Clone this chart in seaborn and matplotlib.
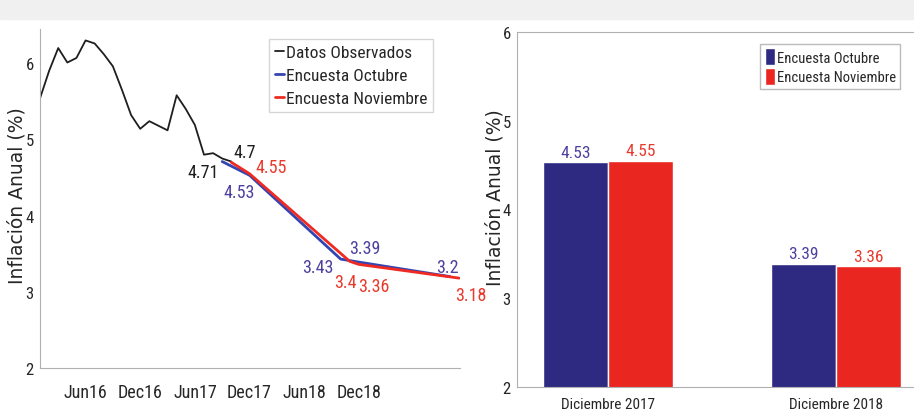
import matplotlib
matplotlib.use('Agg')
import matplotlib.pyplot as plt
import pandas as pd
import seaborn as sns
from matplotlib.patches import Rectangle

# observed inflation, monthly Jan16 - Oct17 (month index 0 = Jan16)
obs_month = list(range(0, 22))
obs_value = [5.54, 5.90, 6.20, 6.01, 6.07, 6.30, 6.26, 6.12, 5.96, 5.65, 5.32, 5.14,
             5.24, 5.18, 5.12, 5.58, 5.40, 5.19, 4.80, 4.82, 4.75, 4.71]

# survey paths
oct_month = [20, 23, 33, 35, 45]
oct_value = [4.71, 4.53, 3.43, 3.39, 3.20]
nov_month = [21, 23, 34, 35, 46]
nov_value = [4.70, 4.55, 3.40, 3.36, 3.18]

tick_month = [5, 11, 17, 23, 29, 35]
tick_label = ['Jun16', 'Dec16', 'Jun17', 'Dec17', 'Jun18', 'Dec18']

bar_cat = ['Diciembre 2017', 'Diciembre 2018']
bar_oct = [4.53, 3.39]
bar_nov = [4.55, 3.36]

series = ['Datos Observados', 'Encuesta Octubre', 'Encuesta Noviembre']

BLACK = '#1e1e1e'
BLUE_L = '#3444b0'
RED_L = '#ee2a22'
BLUE_B = '#2e2a82'
RED_B = '#ea2620'
BLUE_T = '#4d419f'
RED_T = '#e9392c'
NARROW = ['Roboto Condensed', 'DejaVu Sans']

sns.set_style('white')
plt.rcParams['font.family'] = NARROW
plt.rcParams['axes.edgecolor'] = '#b0b0b0'

fig = plt.figure(figsize=(9.14, 4.14), dpi=100)
fig.patches.append(Rectangle((0, 1 - 20 / 414), 1, 20 / 414, transform=fig.transFigure,
                             color='#f0f0f0', zorder=-1))

# ---- left: line chart
ax1 = fig.add_axes([40 / 914, 1 - 369 / 414, 420 / 914, 339 / 414])
lines = pd.concat([
    pd.DataFrame({'mes': obs_month, 'valor': obs_value, 'serie': series[0]}),
    pd.DataFrame({'mes': oct_month, 'valor': oct_value, 'serie': series[1]}),
    pd.DataFrame({'mes': nov_month, 'valor': nov_value, 'serie': series[2]}),
])
sns.lineplot(data=lines, x='mes', y='valor', hue='serie', hue_order=series,
             palette=[BLACK, BLUE_L, RED_L], size='serie', sizes=[1.3, 2.0, 2.0],
             ax=ax1, legend=True)
ax1.set_xlim(0, 46.1)
ax1.set_ylim(2, 6.45)
ax1.set_xticks(tick_month, tick_label, fontsize=13)
ax1.set_yticks([2, 3, 4, 5, 6])
ax1.tick_params(axis='y', labelsize=12, pad=1)
ax1.tick_params(axis='x', pad=7)
ax1.set_xlabel('')
ax1.set_ylabel('Inflación Anual (%)', family='DejaVu Sans', fontsize=13.5)
ax1.yaxis.set_label_coords(-0.033, 0.51)
sns.despine(ax=ax1)
ax1.legend(loc='upper right', bbox_to_anchor=(0.936, 0.97), borderaxespad=0, fontsize=12.5,
           handlelength=0.5, handletextpad=0.1, borderpad=0.35, labelspacing=0.45,
           frameon=True, fancybox=False, edgecolor='#cccccc')

# value labels (offsets in pixels)
def lab(ax, x, y, s, dx, dy, c, ha='center'):
    ax.annotate(s, (x, y), xytext=(dx, dy), textcoords='offset pixels', ha=ha,
                va='center', color=c, fontsize=13, annotation_clip=False)

lab(ax1, obs_month[20], obs_value[20], '4.71', -3, -13, BLACK, 'right')
lab(ax1, obs_month[21], obs_value[21], '4.7', 2, 10, BLACK, 'left')
lab(ax1, nov_month[1], nov_value[1], '4.55', 6, 7, RED_T, 'left')
lab(ax1, oct_month[1], oct_value[1], '4.53', -10, -17, BLUE_T)
lab(ax1, oct_month[2], oct_value[2], '3.43', -7, -8, BLUE_T, 'right')
lab(ax1, oct_month[3], oct_value[3], '3.39', 6, 14, BLUE_T)
lab(ax1, nov_month[2], nov_value[2], '3.4', -4, -21, RED_T)
lab(ax1, nov_month[3], nov_value[3], '3.36', 15, -22, RED_T)
lab(ax1, oct_month[4], oct_value[4], '3.2', -3, 10, BLUE_T)
lab(ax1, nov_month[4], nov_value[4], '3.18', 12, -17, RED_T)

# ---- right: bar chart
ax2 = fig.add_axes([517 / 914, 1 - 388 / 414, 410 / 914, 355 / 414])
bars = pd.DataFrame({
    'fecha': bar_cat * 2,
    'valor': bar_oct + bar_nov,
    'encuesta': [series[1]] * 2 + [series[2]] * 2,
})
sns.barplot(data=bars, x='fecha', y='valor', hue='encuesta', hue_order=series[1:],
            palette=[BLUE_B, RED_B], saturation=1, width=0.57, ax=ax2)
ax2.set_xlim(-0.4, 1.4)
ax2.set_ylim(2, 6)
ax2.set_yticks([2, 3, 4, 5, 6])
ax2.tick_params(axis='y', labelsize=12, pad=1)
ax2.tick_params(axis='x', labelsize=11, pad=4)
ax2.set_xlabel('')
ax2.set_ylabel('Inflación Anual (%)', family='DejaVu Sans', fontsize=13.5)
ax2.yaxis.set_label_coords(-0.031, 0.535)
for cont, col in zip(ax2.containers, [BLUE_T, RED_T]):
    ax2.bar_label(cont, fmt='%.2f', color=col, fontsize=12.5, padding=2)
ax2.legend(loc='upper left', bbox_to_anchor=(0.593, 0.966), borderaxespad=0, fontsize=10.5,
           handlelength=0.75, handleheight=1.4, handletextpad=0.1, borderpad=0.3,
           labelspacing=0.2, frameon=True, fancybox=False, edgecolor='#aaaaaa')

fig.savefig('out.png', dpi=100)
